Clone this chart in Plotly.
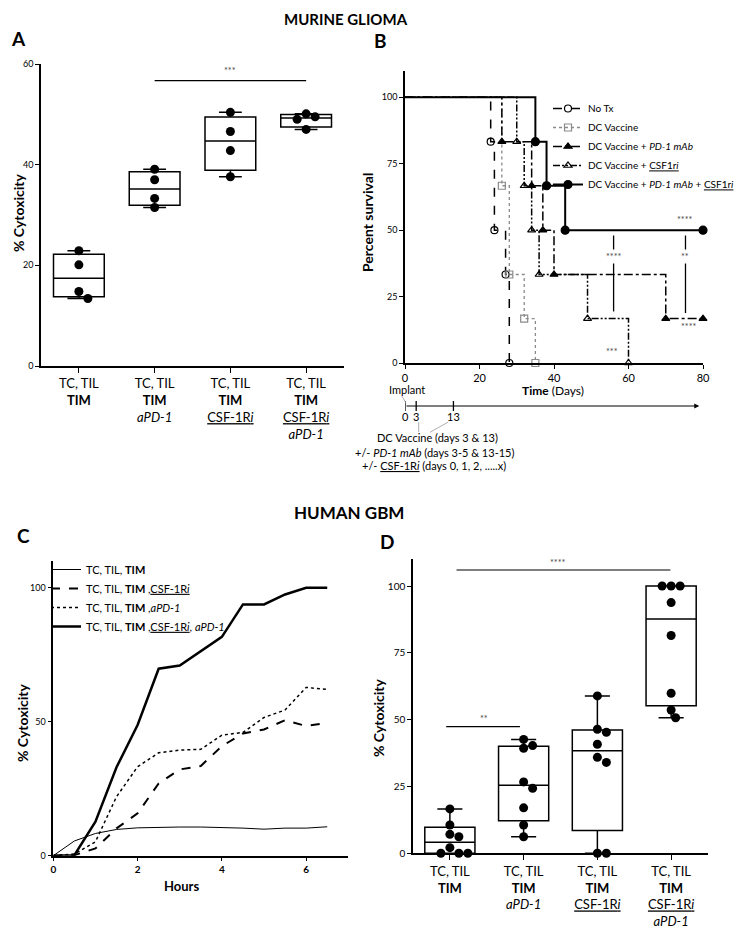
import numpy as np
import plotly.graph_objects as go

W, H = 750, 931          # target picture size
OFF = 8                  # default page body margin offsets the plot div
FW, FH = W - OFF, H - OFF
M = 30  # figure margin (px); paper coordinates below are mapped from picture pixels
FONT = "Lato, 'Open Sans', sans-serif"

# ---------- data ----------
# A: murine glioma, % cytotoxicity (n=4 per group)
a_tim = [22.9, 20.1, 14.8, 13.4]
a_pd1 = [39.1, 37.0, 33.3, 31.5]
a_csf = [50.4, 46.6, 42.8, 37.6]
a_combo = [50.1, 49.5, 49.0, 47.0]

cat_labels = [
    "TC, TIL<br><b>TIM</b>",
    "TC, TIL<br><b>TIM</b><br><i>aPD-1</i>",
    "TC, TIL<br><b>TIM</b><br><u>CSF-1R<i>i</i></u>",
    "TC, TIL<br><b>TIM</b><br><u>CSF-1R<i>i</i></u><br><i>aPD-1</i>",
]

# B: survival (days, percent survival)
notx_days = [0, 23, 24, 27, 28]
notx_surv = [100, 83.3, 50, 33.3, 0]
dcv_days = [0, 26, 28, 32, 35]
dcv_surv = [100, 66.7, 33.3, 16.7, 0]
pd1_days = [0, 26, 34, 37, 40, 70, 80]
pd1_surv = [100, 83.3, 66.7, 50, 33.3, 16.7, 16.7]
csf_days = [0, 30, 32, 34, 36, 49, 60]
csf_surv = [100, 83.3, 66.7, 50, 33.3, 16.7, 0]
combo_days = [0, 35, 38, 43, 80]
combo_surv = [100, 83.3, 66.7, 50, 50]

# C: human GBM cytotoxicity over time
c_hours = [0, 0.5, 1, 1.5, 2, 2.5, 3, 3.5, 4, 4.5, 5, 5.5, 6, 6.5]
c_tim = [0, 5.5, 8.3, 9.8, 10.4, 10.6, 10.7, 10.7, 10.6, 10.3, 9.9, 10.3, 10.3, 10.8]
c_csf = [0, 0.2, 2.7, 10.2, 15.8, 27.0, 32.2, 33.5, 40.9, 45.6, 47.1, 50.6, 48.4, 49.6]
c_pd1 = [0, 0.6, 5.2, 22.0, 33.2, 38.4, 39.4, 39.7, 45.0, 46.0, 51.6, 54.4, 62.8, 62.1]
c_combo = [0, 0.2, 12.7, 33.0, 48.8, 69.8, 71.0, 76.5, 81.7, 93.8, 93.8, 97.5, 100, 100]

# D: human GBM, % cytotoxicity (n=8 per group)
d_tim = [16.6, 10.6, 7.1, 6.2, 2.1, 0, 0, 0]
d_pd1 = [42.6, 40.3, 39.3, 26.7, 24.3, 17.0, 10.6, 6.2]
d_csf = [58.9, 46.4, 45.3, 40.8, 35.9, 34.0, 0, 0]
d_combo = [100, 100, 100, 93.8, 81.5, 59.9, 53.6, 50.7]


def px(x):
    return (x - OFF - M) / (FW - 2 * M)


def py(y):
    return 1 - (y - OFF - M) / (FH - 2 * M)


def swarm(vals, ppu, ppc, d=9.0):
    # simple beeswarm: offsets (in category units) so markers don't overlap
    placed, offs = [], []
    cands = [0]
    for k in range(1, 12):
        cands += [k * d / 2, -k * d / 2]
    for v in vals:
        y = v * ppu
        for c in cands:
            if all(np.hypot(c - qx, y - qy) >= d * 0.95 for qx, qy in placed):
                break
        placed.append((c, y))
        offs.append(c / ppc)
    return offs


def box_panel(groups, xa, ya, ppu, ppc, width, wwidth):
    traces = []
    for i, g in enumerate(groups):
        q1, med, q3 = np.percentile(g, [25, 50, 75], method="weibull")
        traces.append(go.Box(
            x=[i], q1=[q1], median=[med], q3=[q3],
            lowerfence=[min(g)], upperfence=[max(g)],
            width=width, whiskerwidth=wwidth, fillcolor="white",
            line=dict(color="black", width=1.5), boxpoints=False,
            xaxis=xa, yaxis=ya, showlegend=False, hoverinfo="skip"))
        offs = swarm(g, ppu, ppc)
        traces.append(go.Scatter(
            x=[i + o for o in offs], y=g, mode="markers",
            marker=dict(color="black", size=9), cliponaxis=False,
            xaxis=xa, yaxis=ya, showlegend=False))
    return traces


fig = go.Figure()

# panel A
for t in box_panel([a_tim, a_pd1, a_csf, a_combo], "x", "y", 302 / 60, 75.75, 0.67, 0.45):
    fig.add_trace(t)

# panel B - survival curves
surv = [
    ("No Tx", notx_days, notx_surv, "black", "dash", 1.5, "circle-open", 7),
    ("DC Vaccine", dcv_days, dcv_surv, "#8a8a8a", "dot", 1.3, "square-open", 7),
    ("DC Vaccine + <i>PD-1 mAb</i>", pd1_days, pd1_surv, "black", "dashdot", 1.5, "triangle-up", 7),
    ("DC Vaccine + <u>CSF1r<i>i</i></u>", csf_days, csf_surv, "black", "7px,2px,2px,2px,2px,2px", 1.5, "triangle-up-open", 7),
    ("DC Vaccine + <i>PD-1 mAb</i> + <u>CSF1r<i>i</i></u>", combo_days, combo_surv, "black", "solid", 2, "circle", 8),
]
for name, dx, dy, col, dash, lw, sym, ms in surv:
    fig.add_trace(go.Scatter(x=dx, y=dy, mode="lines", line=dict(color=col, dash=dash, width=lw, shape="hv"),
                             xaxis="x2", yaxis="y2", showlegend=False, cliponaxis=False))
    fig.add_trace(go.Scatter(x=dx[1:], y=dy[1:], mode="markers",
                             marker=dict(symbol=sym, size=ms, color=col, line=dict(color=col, width=1.2)),
                             xaxis="x2", yaxis="y2", showlegend=False, cliponaxis=False))
    fig.add_trace(go.Scatter(x=[None], y=[None], mode="lines+markers", name=name,
                             line=dict(color=col, dash=dash, width=lw),
                             marker=dict(symbol=sym, size=ms, color=col, line=dict(color=col, width=1.2)),
                             xaxis="x2", yaxis="y2", legend="legend"))

# panel C - kinetics
kin = [
    ("TC, TIL, <b>TIM</b>", c_tim, "solid", 1),
    ("TC, TIL, <b>TIM</b> ,<u>CSF-1R<i>i</i></u>", c_csf, "dash", 2),
    ("TC, TIL, <b>TIM</b> ,<i>aPD-1</i>", c_pd1, "dot", 1.5),
    ("TC, TIL, <b>TIM</b> ,<u>CSF-1R<i>i</i></u>, <i>aPD-1</i>", c_combo, "solid", 2.5),
]
for name, vals, dash, lw in kin:
    fig.add_trace(go.Scatter(x=c_hours, y=vals, mode="lines", name=name,
                             line=dict(color="black", dash=dash, width=lw),
                             xaxis="x3", yaxis="y3", legend="legend2"))

# panel D
for t in box_panel([d_tim, d_pd1, d_csf, d_combo], "x4", "y4", 294 / 110, 73.75, 0.68, 0.5):
    fig.add_trace(t)

axis = dict(showline=True, linecolor="black", linewidth=1.5, ticks="outside", ticklen=4,
            tickwidth=1.2, tickcolor="black", showgrid=False, zeroline=False,
            tickfont=dict(family=FONT, size=10, color="black"))
cat_axis = dict(axis, tickvals=[0, 1, 2, 3], ticktext=cat_labels, range=[-0.5, 3.5],
                tickfont=dict(family=FONT, size=13, color="black"), ticklen=5)

fig.update_layout(
    width=FW, height=FH, margin=dict(l=M, r=M, t=M, b=M, autoexpand=False),
    paper_bgcolor="white", plot_bgcolor="white",
    font=dict(family=FONT, color="black"),
    xaxis=dict(cat_axis, domain=[px(41), px(344)], anchor="y"),
    yaxis=dict(axis, domain=[py(366), py(64)], range=[0, 60], tickvals=[0, 20, 40, 60],
               anchor="x", tickfont=dict(family=FONT, size=9, color="black")),
    xaxis2=dict(axis, domain=[px(405), px(703)], range=[0, 80], tickvals=[0, 20, 40, 60, 80],
                anchor="y2", tickfont=dict(family=FONT, size=11, color="black")),
    yaxis2=dict(axis, domain=[py(363), py(70.7)], range=[0, 110], tickvals=[0, 25, 50, 75, 100],
                anchor="x2", tickfont=dict(family=FONT, size=9, color="black")),
    xaxis3=dict(axis, domain=[px(53.3), px(348.3)], range=[0, 7], tickvals=[0, 2, 4, 6],
                anchor="y3", tickfont=dict(family=FONT, size=10, color="black", weight="bold")),
    yaxis3=dict(axis, domain=[py(855.7), py(561)], range=[0, 110], tickvals=[0, 50, 100],
                anchor="x3", tickfont=dict(family=FONT, size=9, color="black")),
    xaxis4=dict(cat_axis, domain=[px(413), px(708)], anchor="y4"),
    yaxis4=dict(axis, domain=[py(853.3), py(559.3)], range=[0, 110], tickvals=[0, 25, 50, 75, 100],
                anchor="x4", tickfont=dict(family=FONT, size=10, color="black")),
    legend=dict(x=px(548), y=py(94), xanchor="left", yanchor="top", bgcolor="rgba(0,0,0,0)",
                font=dict(family=FONT, size=10), itemwidth=30, tracegroupgap=0),
    legend2=dict(x=px(46), y=py(555), xanchor="left", yanchor="top", bgcolor="rgba(0,0,0,0)",
                 font=dict(family=FONT, size=11), itemwidth=30, tracegroupgap=0),
)

ann = []
shapes = []


def text(x, y, t, size=12, ref=("paper", "paper"), **kw):
    ann.append(dict(x=x, y=y, xref=ref[0], yref=ref[1], text=t, showarrow=False,
                    xanchor="center", yanchor="middle",
                    font=dict(family=FONT, size=size, color=kw.pop("color", "black")), **kw))


# headings and panel letters
text(px(346), py(19), "<b>MURINE GLIOMA</b>", 15)
text(px(349), py(512), "<b>HUMAN GBM</b>", 17)
for letter, x, y in [("A", 18, 39), ("B", 380, 40), ("C", 23, 535), ("D", 387, 541)]:
    text(px(x), py(y), "<b>%s</b>" % letter, 19)

# axis titles
text(px(18), py(213), "<b>% Cytoxicity</b>", 14, textangle=-90)
text(px(368), py(223), "<b>Percent survival</b>", 14, textangle=-90)
text(px(553), py(391), "<b>Time</b> (Days)", 12)
text(px(22), py(723), "<b>% Cytoxicity</b>", 14, textangle=-90)
text(px(181), py(886), "<b>Hours</b>", 13)
text(px(378), py(718), "<b>% Cytoxicity</b>", 14, textangle=-90)

# significance, panel A
SIG = "#444"
shapes.append(dict(type="line", xref="x", yref="y", x0=1, x1=3, y0=56.7, y1=56.7, line=dict(color="black", width=1.2)))
text(2, 58.7, "***", 9, ref=("x", "y"), color=SIG)

# significance, panel D
shapes.append(dict(type="line", xref="x4", yref="y4", x0=-0.05, x1=0.95, y0=47.4, y1=47.4, line=dict(color="black", width=1.2)))
text(0.46, 50.4, "**", 9, ref=("x4", "y4"), color=SIG)
shapes.append(dict(type="line", xref="x4", yref="y4", x0=0.09, x1=2.99, y0=106, y1=106, line=dict(color="black", width=1.2)))
text(1.46, 108.8, "****", 9, ref=("x4", "y4"), color=SIG)

# significance, panel B
for xv, y0, y1 in [(56, 48, 19.4), (75.3, 48, 18.8)]:
    shapes.append(dict(type="line", xref="x2", yref="y2", x0=xv, x1=xv, y0=y0, y1=y1, line=dict(color="black", width=1.3)))
text(75, 54, "****", 9, ref=("x2", "y2"), color=SIG)
text(56, 40, "****", 9, ref=("x2", "y2"), color=SIG, bgcolor="white")
text(75.3, 40, "**", 9, ref=("x2", "y2"), color=SIG, bgcolor="white")
text(76, 13.6, "****", 9, ref=("x2", "y2"), color=SIG)
text(55.7, 4.2, "***", 9, ref=("x2", "y2"), color=SIG)

# treatment timeline under panel B
ann.append(dict(x=79, y=py(406), xref="x2", yref="paper", axref="x2", ax=0, ayref="pixel", ay=0,
                text="", showarrow=True, arrowhead=2, arrowsize=1, arrowwidth=1, arrowcolor="black"))
for d in [0, 3, 13]:
    shapes.append(dict(type="line", xref="x2", yref="paper", x0=d, x1=d, y0=py(401), y1=py(411),
                       line=dict(color="black", width=1.3)))
    text(d, py(416), str(d), 11, ref=("x2", "paper"))
text(px(407), py(389), "Implant", 11)
for x0, y0, x1, y1 in [(401.7, 395.7, 406, 403), (418.7, 422, 418.7, 432), (448.3, 422, 430, 432.3)]:
    shapes.append(dict(type="line", xref="paper", yref="paper", x0=px(x0), y0=py(y0), x1=px(x1), y1=py(y1),
                       line=dict(color="#999", width=0.8)))
text(px(437), py(437.3), "DC Vaccine (days 3 &amp; 13)", 11)
text(px(434), py(452.3), "+/- <i>PD-1 mAb</i> (days 3-5 &amp; 13-15)", 11)
text(px(434), py(465.7), "+/- <u>CSF-1R<i>i</i></u> (days 0, 1, 2, .....x)", 11)

fig.update_layout(annotations=ann, shapes=shapes)
fig.write_html("out.html")
